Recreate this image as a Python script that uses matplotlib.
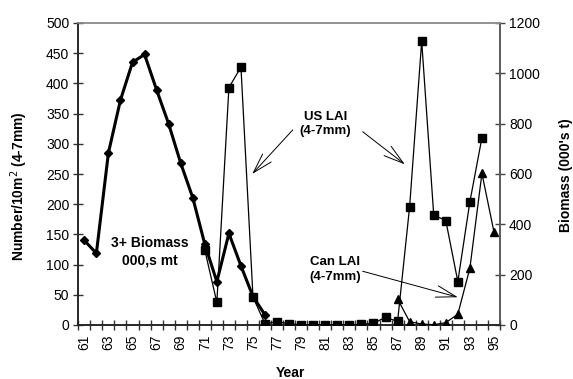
import matplotlib
matplotlib.use("Agg")
import matplotlib.pyplot as plt
import numpy as np

plt.rcParams['font.family'] = ['Liberation Sans', 'DejaVu Sans']

years = list(range(61, 96))
year_labels = [str(y) if (y - 61) % 2 == 0 else '' for y in years]

# 3+ Biomass (000's t), right axis, 1961-1976
biomass_years = list(range(61, 77))
biomass = [336, 285, 684, 894, 1044, 1075, 934, 799, 643, 506, 321, 172, 364, 235, 113, 40]

# US LAI (4-7mm), Number/10m2, 1971-1994
us_years = list(range(71, 95))
us_lai = [124, 37.5, 393, 427, 46, 2, 5.5, 2, 0.5, 0.5, 0.5, 0.5, 0.5, 1, 3, 12.7, 6, 196, 470, 182, 173, 72, 204, 310]

# Can LAI (4-7mm), Number/10m2, 1987-1995
can_years = list(range(87, 96))
can_lai = [43, 5.5, 1.6, 0.5, 3.8, 18, 94, 251, 154]

def idx(ys):
    return [y - 61 for y in ys]

fig = plt.figure(figsize=(5.73, 3.79), dpi=100)
ax = fig.add_axes([78.3/573, 1-325/379, (500-78.3)/573, (325-23)/379])
ax2 = ax.twinx()

ax.plot(idx(us_years), us_lai, color='black', lw=0.9, marker='s', ms=5.5, zorder=3)
ax.plot(idx(can_years), can_lai, color='black', lw=0.9, marker='^', ms=5.5, zorder=3)
ax2.plot(idx(biomass_years), biomass, color='black', lw=2.2, marker='D', ms=4, zorder=3)

ax.set_xlim(-0.5, 34.5)
ax.set_ylim(0, 500)
ax2.set_ylim(0, 1200)
ax.set_yticks(np.arange(0, 501, 50))
ax2.set_yticks(np.arange(0, 1201, 200))

ax.set_xticks(range(len(years)))
ax.set_xticklabels(year_labels, rotation=90)
ax.set_xticks(np.arange(-0.5, 35, 1), minor=True)
ax.tick_params(axis='x', which='major', length=0, pad=7, labelsize=10)
ax.tick_params(axis='x', which='minor', direction='inout', length=7, width=1, color='#333333')
ax.tick_params(axis='y', direction='inout', length=7, width=1, labelsize=10, pad=3, color='#333333')
ax2.tick_params(axis='y', direction='inout', length=7, width=1, labelsize=10, pad=3, color='#444444')

for a in (ax, ax2):
    a.spines['top'].set_color('#909090')
    a.spines['left'].set_color('#222222')
    a.spines['bottom'].set_color('#222222')
    a.spines['right'].set_color('#555555')
    for s in a.spines.values():
        s.set_linewidth(1.1)

ax.set_xlabel('Year', fontsize=10, fontweight='bold')
ax.set_ylabel('Number/10m$^2$ (4-7mm)', fontsize=10, fontweight='bold')
ax2.set_ylabel("Biomass (000's t)", fontsize=10, fontweight='bold')
ax.xaxis.set_label_coords(0.502, -0.136)
ax.yaxis.set_label_coords(-0.114, 0.46)
ax2.yaxis.set_label_coords(1.139, 0.497)

ax.set_zorder(ax2.get_zorder() + 1)
ax.patch.set_visible(False)

ax.text(5.46, 121, '3+ Biomass\n000,s mt', ha='center', va='center', fontsize=10,
        fontweight='bold', linespacing=1.3)
ax.text(20.0, 333, 'US LAI\n(4-7mm)', ha='center', va='center', fontsize=9.5,
        fontweight='bold', linespacing=1.3)
ax.text(20.8, 92, 'Can LAI\n(4-7mm)', ha='center', va='center', fontsize=9.5,
        fontweight='bold', linespacing=1.3)

arrowprops = dict(arrowstyle='->,head_length=1.2,head_width=0.35', lw=0.7,
                  color='black', shrinkA=0, shrinkB=0, mutation_scale=12)
ax.annotate('', xy=(13.93, 250), xytext=(17.3, 323), arrowprops=arrowprops)
ax.annotate('', xy=(26.6, 266), xytext=(23.1, 320), arrowprops=arrowprops)
ax.annotate('', xy=(31.0, 46), xytext=(23.1, 89), arrowprops=arrowprops)

fig.savefig('out.png', dpi=100)
